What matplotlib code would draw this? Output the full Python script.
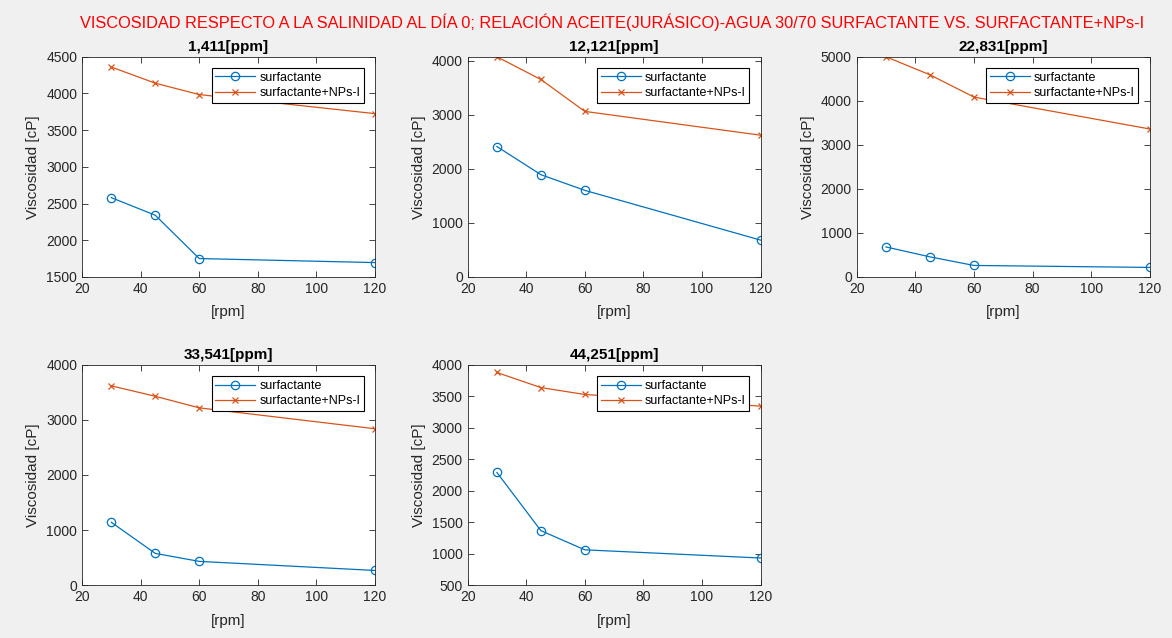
import matplotlib
matplotlib.use("Agg")
import matplotlib.pyplot as plt

plt.rcParams['font.family'] = ['Liberation Sans', 'DejaVu Sans']

rpm = [30, 45, 60, 120]
titles = ['1,411[ppm]', '12,121[ppm]', '22,831[ppm]', '33,541[ppm]', '44,251[ppm]']
surf = [
    [2580, 2340, 1750, 1695],
    [2410, 1890, 1600, 680],
    [680, 455, 260, 215],
    [1140, 575, 430, 265],
    [2290, 1365, 1060, 930],
]
surf_nps = [
    [4360, 4140, 3985, 3725],
    [4070, 3650, 3060, 2620],
    [5000, 4590, 4085, 3360],
    [3620, 3430, 3220, 2840],
    [3880, 3640, 3530, 3345],
]
ylims = [(1500, 4500), (0, 4070), (0, 5000), (0, 4000), (500, 4000)]
yticks = [
    [1500, 2000, 2500, 3000, 3500, 4000, 4500],
    [0, 1000, 2000, 3000, 4000],
    [0, 1000, 2000, 3000, 4000, 5000],
    [0, 1000, 2000, 3000, 4000],
    [500, 1000, 1500, 2000, 2500, 3000, 3500, 4000],
]

blue = '#0072BD'
orange = '#D95319'
tc = '#262626'

fig = plt.figure(figsize=(11.72, 6.38), dpi=100, facecolor='#f0f0f0')
lefts = [0.070, 0.399, 0.731]
w, h = 0.250, 0.345
bottoms = [0.566, 0.083]

for i in range(5):
    r, c = divmod(i, 3)
    ax = fig.add_axes([lefts[c], bottoms[r], w, h])
    ax.plot(rpm, surf[i], '-o', color=blue, lw=0.9, ms=6, mfc='none', mew=0.9, label='surfactante')
    ax.plot(rpm, surf_nps[i], '-x', color=orange, lw=0.9, ms=5, mew=0.9, label='surfactante+NPs-I')
    ax.set_xlim(20, 120)
    ax.set_ylim(*ylims[i])
    ax.set_xticks([20, 40, 60, 80, 100, 120])
    ax.set_yticks(yticks[i])
    ax.tick_params(direction='in', top=True, right=True, labelsize=10, colors=tc, length=4, width=0.6)
    for s in ax.spines.values():
        s.set_color(tc)
        s.set_linewidth(0.6)
    ax.set_title(titles[i], fontsize=11, fontweight='bold', pad=4)
    ax.set_xlabel('[rpm]', fontsize=11, color=tc, labelpad=7)
    ax.set_ylabel('Viscosidad [cP]', fontsize=11, color=tc)
    leg = ax.legend(loc='upper right', fontsize=9, fancybox=False, framealpha=1,
                    edgecolor='black', borderaxespad=0.9, handlelength=3.2,
                    borderpad=0.3, labelspacing=0.25, handletextpad=0.3)
    leg.get_frame().set_linewidth(0.8)

fig.suptitle('VISCOSIDAD RESPECTO A LA SALINIDAD AL DÍA 0; RELACIÓN ACEITE(JURÁSICO)-AGUA 30/70 SURFACTANTE VS. SURFACTANTE+NPs-I',
             color='#ff0000', fontsize=11.75, x=0.522, y=0.979)

fig.savefig('out.png', dpi=100, facecolor=fig.get_facecolor())
